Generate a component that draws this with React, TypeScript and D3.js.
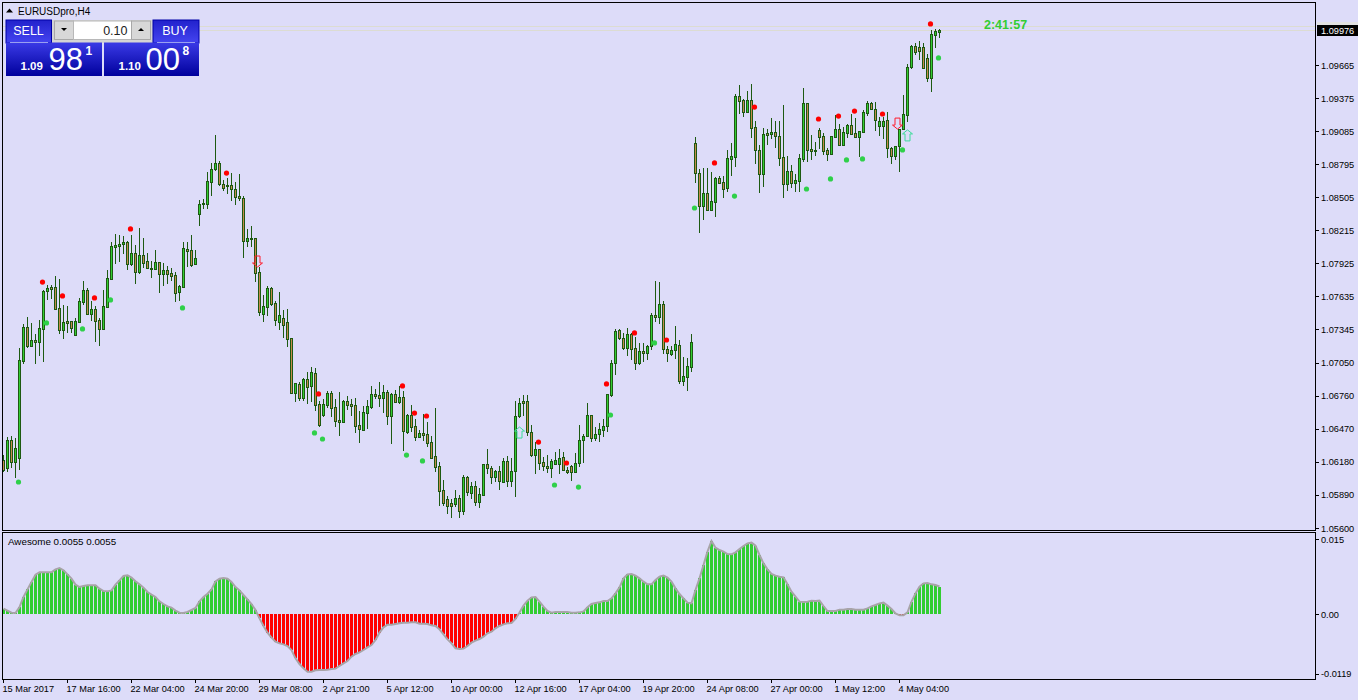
/**
 * EURUSD H4 terminal chart: candles, fractal dots, signal arrows and an Awesome oscillator pane.
 */
import React from 'react';
import * as d3 from 'd3';

const opens = [
  1.06198,1.06128,1.06373,1.06180,1.06215,1.07067,1.07366,1.07199,1.07252,1.07234,
  1.07349,1.07683,1.07718,1.07718,1.07534,1.07340,1.07419,1.07419,1.07296,1.07410,
  1.07586,1.07692,1.07481,1.07525,1.07428,1.07349,1.07542,1.07788,1.08069,1.08078,
  1.08096,1.08113,1.07920,1.08017,1.07849,1.07999,1.07946,1.07885,1.07876,1.07937,
  1.07832,1.07867,1.07841,1.07823,1.07674,1.07718,1.08052,1.08043,1.07920,1.08360,
  1.08447,1.08447,1.08640,1.08755,1.08808,1.08623,1.08614,1.08614,1.08579,1.08517,
  1.08500,1.08122,1.08149,1.08149,1.07849,1.07481,1.07542,1.07709,1.07578,1.07410,
  1.07446,1.07410,1.07270,1.06787,1.06866,1.06743,1.06909,1.06848,1.06962,1.06690,
  1.06593,1.06681,1.06787,1.06663,1.06549,1.06531,1.06716,1.06690,1.06681,1.06505,
  1.06461,1.06610,1.06663,1.06778,1.06769,1.06743,1.06795,1.06584,1.06778,1.06707,
  1.06752,1.06443,1.06593,1.06496,1.06399,1.06435,1.06426,1.06355,1.06233,1.06145,
  1.05934,1.05855,1.05820,1.05811,1.05864,1.05749,1.06048,1.05908,1.05969,1.05828,
  1.05890,1.06162,1.06128,1.06048,1.06101,1.06004,1.06189,1.06013,1.06101,1.06584,
  1.06716,1.06716,1.06443,1.06241,1.06294,1.06180,1.06145,1.06128,1.06162,1.06162,
  1.06224,1.06110,1.06145,1.06092,1.06171,1.06373,1.06408,1.06593,1.06391,1.06426,
  1.06461,1.06496,1.06769,1.07050,1.07340,1.07270,1.07182,1.07305,1.07182,1.07050,
  1.07155,1.07138,1.07199,1.07472,1.07454,1.07569,1.07173,1.07129,1.07164,1.07208,
  1.06892,1.06927,1.07014,1.08984,1.08719,1.08429,1.08544,1.08395,1.08464,1.08676,
  1.08640,1.08588,1.08843,1.08860,1.09396,1.09361,1.09255,1.09361,1.09124,1.08922,
  1.08711,1.09072,1.09063,1.09080,1.09045,1.08860,1.08623,1.08737,1.08632,1.08649,
  1.08843,1.09335,1.08931,1.08922,1.09098,1.09045,1.08922,1.08887,1.09036,1.09106,
  1.08966,1.09072,1.09141,1.09072,1.09036,1.09080,1.09247,1.09335,1.09282,1.09133,
  1.09133,1.09185,1.08940,1.08869,1.08957,1.09106,1.09229,1.09651,1.09836,1.09827,
  1.09827,1.09731,1.09555,1.09932,1.09959,
];

const highs = [
  1.06241,1.06399,1.06408,1.06391,1.07182,1.07393,1.07454,1.07402,1.07305,1.07428,
  1.07692,1.07735,1.07735,1.07814,1.07788,1.07560,1.07551,1.07419,1.07446,1.07622,
  1.07770,1.07709,1.07595,1.07551,1.07446,1.07692,1.07867,1.08113,1.08184,1.08175,
  1.08166,1.08122,1.08175,1.08087,1.08237,1.08149,1.08017,1.07946,1.08043,1.07937,
  1.07929,1.07902,1.07885,1.07849,1.07735,1.08113,1.08113,1.08175,1.08043,1.08482,
  1.08491,1.08728,1.08808,1.09054,1.08825,1.08658,1.08676,1.08719,1.08640,1.08711,
  1.08517,1.08228,1.08254,1.08149,1.07894,1.07648,1.07726,1.07718,1.07595,1.07674,
  1.07516,1.07525,1.07270,1.06875,1.06883,1.06918,1.06970,1.07014,1.07005,1.06716,
  1.06734,1.06804,1.06804,1.06734,1.06795,1.06725,1.06760,1.06734,1.06743,1.06628,
  1.06672,1.06725,1.06848,1.06822,1.06883,1.06857,1.06813,1.06787,1.06813,1.06848,
  1.06804,1.06602,1.06681,1.06558,1.06461,1.06602,1.06531,1.06408,1.06655,1.06180,
  1.06022,1.05881,1.05855,1.05934,1.05890,1.06066,1.06057,1.06004,1.06013,1.05951,
  1.06162,1.06294,1.06145,1.06110,1.06145,1.06215,1.06233,1.06215,1.06716,1.06743,
  1.06769,1.06769,1.06505,1.06355,1.06294,1.06224,1.06241,1.06206,1.06268,1.06294,
  1.06268,1.06136,1.06154,1.06259,1.06505,1.06426,1.06699,1.06593,1.06487,1.06522,
  1.06558,1.06778,1.07076,1.07349,1.07349,1.07314,1.07358,1.07314,1.07279,1.07226,
  1.07226,1.07208,1.07490,1.07770,1.07761,1.07595,1.07199,1.07199,1.07375,1.07252,
  1.07102,1.07094,1.07305,1.09036,1.08755,1.08764,1.08764,1.08728,1.08685,1.08693,
  1.08693,1.08922,1.08984,1.09414,1.09493,1.09370,1.09440,1.09502,1.09176,1.08966,
  1.09115,1.09106,1.09202,1.09176,1.09176,1.09317,1.08869,1.08790,1.08711,1.08887,
  1.09467,1.09335,1.09054,1.08992,1.09115,1.09072,1.08940,1.09045,1.09229,1.09150,
  1.09124,1.09150,1.09238,1.09202,1.09089,1.09273,1.09352,1.09343,1.09343,1.09211,
  1.09211,1.09255,1.08948,1.08957,1.09106,1.09405,1.09678,1.09845,1.09863,1.09880,
  1.09863,1.09766,1.09976,1.09985,1.09985,
];

const lows = [
  1.06092,1.06092,1.06128,1.06040,1.06110,1.07041,1.07182,1.07190,1.07041,1.07111,
  1.07058,1.07604,1.07613,1.07516,1.07305,1.07261,1.07314,1.07314,1.07296,1.07410,
  1.07560,1.07481,1.07419,1.07234,1.07199,1.07340,1.07534,1.07788,1.07920,1.07937,
  1.08008,1.07867,1.07902,1.07744,1.07832,1.07885,1.07885,1.07797,1.07867,1.07666,
  1.07726,1.07744,1.07770,1.07586,1.07595,1.07718,1.07894,1.07894,1.07911,1.08254,
  1.08404,1.08404,1.08517,1.08737,1.08605,1.08561,1.08535,1.08473,1.08438,1.08473,
  1.07973,1.08069,1.08069,1.07761,1.07463,1.07410,1.07463,1.07551,1.07375,1.07340,
  1.07270,1.07190,1.06787,1.06707,1.06716,1.06716,1.06690,1.06707,1.06628,1.06487,
  1.06575,1.06655,1.06575,1.06487,1.06408,1.06522,1.06637,1.06584,1.06435,1.06347,
  1.06452,1.06470,1.06646,1.06734,1.06663,1.06610,1.06505,1.06338,1.06699,1.06690,
  1.06276,1.06426,1.06443,1.06364,1.06391,1.06364,1.06312,1.06215,1.06092,1.05793,
  1.05793,1.05723,1.05688,1.05785,1.05688,1.05714,1.05881,1.05855,1.05793,1.05776,
  1.05890,1.06074,1.05987,1.06004,1.05934,1.05995,1.05960,1.05960,1.05872,1.06566,
  1.06584,1.06408,1.06224,1.06074,1.06110,1.06101,1.06083,1.06040,1.06162,1.06074,
  1.06101,1.06074,1.06013,1.06083,1.06136,1.06171,1.06399,1.06355,1.06364,1.06355,
  1.06399,1.06443,1.06752,1.06944,1.07252,1.07164,1.07111,1.07076,1.06988,1.07032,
  1.07058,1.07076,1.07164,1.07410,1.07393,1.07129,1.07058,1.07111,1.07085,1.06866,
  1.06848,1.06804,1.06970,1.08632,1.08193,1.08307,1.08395,1.08386,1.08333,1.08623,
  1.08500,1.08552,1.08693,1.08772,1.09238,1.09211,1.09255,1.09027,1.08799,1.08544,
  1.08597,1.08966,1.09018,1.08940,1.08781,1.08500,1.08561,1.08588,1.08552,1.08552,
  1.08816,1.08816,1.08834,1.08869,1.08931,1.08878,1.08825,1.08887,1.09036,1.08957,
  1.08957,1.09027,1.09054,1.09027,1.08860,1.09080,1.09220,1.09273,1.09089,1.09045,
  1.09018,1.08852,1.08799,1.08834,1.08728,1.09098,1.09167,1.09634,1.09757,1.09713,
  1.09643,1.09519,1.09431,1.09818,1.09906,
];

const closes = [
  1.06110,1.06373,1.06180,1.06303,1.07076,1.07366,1.07199,1.07252,1.07234,1.07358,
  1.07683,1.07709,1.07701,1.07525,1.07340,1.07410,1.07402,1.07358,1.07419,1.07595,
  1.07692,1.07481,1.07525,1.07419,1.07349,1.07551,1.07797,1.08078,1.08087,1.08096,
  1.08113,1.07920,1.08017,1.07849,1.07999,1.07929,1.07885,1.07876,1.07937,1.07832,
  1.07867,1.07832,1.07814,1.07666,1.07726,1.08061,1.08034,1.07911,1.07973,1.08447,
  1.08456,1.08649,1.08755,1.08808,1.08623,1.08588,1.08605,1.08579,1.08508,1.08500,
  1.08122,1.08149,1.08140,1.07841,1.07498,1.07551,1.07709,1.07569,1.07428,1.07472,
  1.07384,1.07261,1.06787,1.06875,1.06743,1.06909,1.06839,1.06970,1.06681,1.06505,
  1.06690,1.06787,1.06655,1.06540,1.06531,1.06716,1.06681,1.06672,1.06496,1.06470,
  1.06619,1.06672,1.06778,1.06760,1.06743,1.06795,1.06584,1.06778,1.06707,1.06752,
  1.06452,1.06593,1.06487,1.06399,1.06435,1.06417,1.06347,1.06215,1.06136,1.05925,
  1.05820,1.05793,1.05793,1.05864,1.05749,1.06048,1.05916,1.05969,1.05828,1.05899,
  1.06162,1.06128,1.06048,1.06101,1.06013,1.06189,1.06013,1.06101,1.06584,1.06699,
  1.06699,1.06443,1.06241,1.06294,1.06171,1.06145,1.06128,1.06189,1.06198,1.06215,
  1.06110,1.06092,1.06092,1.06171,1.06373,1.06408,1.06593,1.06391,1.06426,1.06470,
  1.06496,1.06778,1.07050,1.07331,1.07270,1.07182,1.07305,1.07173,1.07050,1.07155,
  1.07138,1.07199,1.07472,1.07454,1.07569,1.07173,1.07138,1.07164,1.07217,1.06892,
  1.06935,1.07023,1.07234,1.08719,1.08429,1.08544,1.08395,1.08473,1.08676,1.08632,
  1.08579,1.08852,1.08869,1.09396,1.09352,1.09255,1.09361,1.09115,1.08922,1.08711,
  1.09063,1.09054,1.09080,1.09045,1.08852,1.08623,1.08737,1.08632,1.08658,1.08852,
  1.09335,1.08922,1.08913,1.08913,1.09036,1.08913,1.08887,1.09045,1.09106,1.08966,
  1.09080,1.09141,1.09063,1.09036,1.09089,1.09255,1.09335,1.09282,1.09185,1.09176,
  1.09176,1.08940,1.08869,1.08957,1.09106,1.09238,1.09651,1.09836,1.09783,1.09792,
  1.09643,1.09555,1.09941,1.09967,1.09976,
];

const aoValues = [
  .00107,.00067,.00027,.0002,.0014,.0034,.00493,.0064,.00787,.00833,
  .00833,.00833,.00833,.00893,.0092,.00873,.00793,.00707,.00587,.0054,
  .0056,.00573,.00573,.00573,.00507,.0046,.00453,.00473,.00587,.00673,
  .0076,.00773,.00727,.00653,.00593,.00527,.0044,.00387,.0034,.00253,
  .002,.00153,.00127,.00067,.00027,.0002,.0004,.0008,.0012,.00253,
  .0034,.00407,.00493,.00653,.00707,.0072,.00707,.0064,.0054,.00473,
  .0038,.00293,.002,.0008,-.00087,-.0024,-.00373,-.00473,-.00553,-.00587,
  -.00607,-.0064,-.0072,-.00887,-.01,-.01087,-.01153,-.01153,-.01127,-.0112,
  -.0112,-.01113,-.011,-.01093,-.0104,-.00987,-.0094,-.00853,-.008,-.00767,
  -.0072,-.00667,-.0062,-.0052,-.00373,-.00267,-.00213,-.00213,-.002,-.00187,
  -.00173,-.00173,-.00167,-.00167,-.00193,-.00193,-.002,-.00227,-.0024,-.00307,
  -.00407,-.00507,-.00587,-.00687,-.007,-.00693,-.0064,-.00573,-.00533,-.005,
  -.00453,-.00387,-.00353,-.00287,-.0024,-.00207,-.00187,-.0018,-.001,.0003,
  .00167,.00267,.00333,.0034,.00247,.00147,.0006,.00027,.0004,.0004,
  .0004,.0004,.00027,.00027,.00033,.00053,.00133,.002,.0022,.00233,
  .0026,.0026,.00313,.00413,.00533,.00713,.00793,.008,.00767,.00713,
  .00647,.00593,.00593,.0068,.00747,.00767,.00727,.00647,.00513,.004,
  .00313,.00227,.00213,.0048,.00713,.0098,.01247,.0146,.01327,.0128,
  .01247,.012,.01193,.01233,.013,.0136,.01413,.01427,.01367,.0118,
  .01013,.00893,.008,.00767,.00747,.00733,.00593,.00447,.00347,.00247,
  .0024,.00247,.00267,.0026,.00267,.0016,.0006,.0006,.0006,.00087,
  .00087,.001,.001,.00087,.00087,.00087,.00113,.00153,.0018,.00213,
  .00227,.00167,.001,.00013,-.00027,-.00027,.00033,.00247,.00413,.00547,
  .00613,.0062,.00593,.0058,.0055,
];

// fractal markers: bar index and price
const upFractalBars = [10,15,23,32,56,79,100,103,106,134,141,151,158,166,178,188,204,209,213,220,232];
const upFractalPrices = [
  1.07761,1.07639,1.07622,1.08228,1.08719,1.06778,1.06848,1.06610,1.06584,1.06355,1.06171,
  1.06866,1.07314,1.07252,1.08808,1.09299,1.09194,1.09220,1.09264,1.09238,1.10029,
];
const downFractalBars = [4,11,20,27,45,78,80,101,105,138,144,152,163,173,183,201,207,211,215,225,234];
const downFractalPrices = [
  1.06004,1.07402,1.07349,1.07604,1.07534,1.06435,1.06382,1.06241,1.06189,1.05978,1.05960,
  1.06593,1.07226,1.08412,1.08517,1.08579,1.08667,1.08834,1.08843,1.08922,1.09731,
];

// signal arrows: bar index and the price at the top of the glyph
const sellArrowBars = [64, 224];
const sellArrowPrices = [1.0799, 1.09202];
const buyArrowBars = [129, 226];
const buyArrowPrices = [1.06487, 1.09098];

const priceTicks = [
  '1.09665','1.09375','1.09085','1.08795','1.08505','1.08215','1.07925',
  '1.07635','1.07345','1.07050','1.06760','1.06470','1.06180','1.05890','1.05600',
];
const aoTicks = ['0.015', '0.00', '-0.0119'];
const timeBars = [0,16,32,48,64,80,96,112,128,144,160,176,192,208,224];
const timeLabels = [
  '15 Mar 2017','17 Mar 16:00','22 Mar 04:00','24 Mar 20:00','29 Mar 08:00',
  '2 Apr 21:00','5 Apr 12:00','10 Apr 00:00','12 Apr 16:00','17 Apr 04:00',
  '19 Apr 20:00','24 Apr 08:00','27 Apr 00:00','1 May 12:00','4 May 04:00',
];

const bidPrice = 1.09976;
const askPrice = 1.10008;

const WIDTH = 1358;
const HEIGHT = 700;
const BG = '#dddcf9';
const WICK = '#1d5a12';
const UP_FILL = '#32cd32';
const DOWN_FILL = '#c58a4c';
const LABEL_FONT = '"Liberation Sans", Arial, sans-serif';

const x = d3.scaleLinear().domain([0, 234]).range([3, 939]);
const py = d3.scaleLinear().domain([1.056, 1.09976]).range([528, 30]);
const ay = d3.scaleLinear().domain([-0.0119, 0.015]).range([673.5, 539]);

const crisp = (v: number) => Math.round(v) + 0.5;

const aoLine = d3
  .line<number>()
  .x((_, i) => x(i) + 0.5)
  .y((d) => ay(d));

const sellArrow = (cx: number, top: number) =>
  `M${cx - 2.5},${top} H${cx + 2.5} V${top + 7} H${cx + 5} L${cx},${top + 11} L${cx - 5},${top + 7} H${cx - 2.5} Z`;
const buyArrow = (cx: number, top: number) =>
  `M${cx},${top} L${cx + 5},${top + 4} H${cx + 2.5} V${top + 11} H${cx - 2.5} V${top + 4} H${cx - 5} Z`;

const Candles = () => (
  <g shapeRendering="crispEdges">
    {opens.map((o, i) => {
      const c = closes[i];
      const top = crisp(py(Math.max(o, c)));
      const bottom = Math.max(crisp(py(Math.min(o, c))), top + 1);
      return (
        <g key={i}>
          <line
            x1={x(i) + 0.5}
            x2={x(i) + 0.5}
            y1={Math.round(py(highs[i]))}
            y2={Math.round(py(lows[i]))}
            stroke={WICK}
          />
          <rect
            x={x(i) - 0.5}
            y={top}
            width={2}
            height={bottom - top}
            fill={c >= o ? UP_FILL : DOWN_FILL}
            stroke={WICK}
          />
        </g>
      );
    })}
  </g>
);

const TradePanel = () => (
  <g fontFamily={LABEL_FONT}>
    <rect x={6} y={20} width={193} height={23} fill="#d4d4d4" />
    <rect x={6} y={20} width={45.5} height={23} fill="url(#btnGrad)" stroke="#0000a8" />
    <rect x={153} y={20} width={46} height={23} fill="url(#btnGrad)" stroke="#0000a8" />
    <text x={28.5} y={35} fill="#fff" fontSize={12.5} textAnchor="middle">SELL</text>
    <text x={175} y={35} fill="#fff" fontSize={12.5} textAnchor="middle">BUY</text>
    <rect x={54.5} y={21} width={19} height={18.5} fill="#d8d8d8" stroke="#a8a8a8" />
    <rect x={73.5} y={21} width={58} height={18.5} fill="#fff" stroke="#b8b8b8" />
    <rect x={131.5} y={21} width={19} height={18.5} fill="#d8d8d8" stroke="#a8a8a8" />
    <path d="M61,28 h6 l-3,3 Z" fill="#000" />
    <path d="M138,31 h6 l-3,-3 Z" fill="#000" />
    <text x={127.5} y={34.5} fontSize={12.5} textAnchor="end" fill="#222">0.10</text>

    <rect x={6} y={42.5} width={96} height={33.5} fill="url(#quoteGrad)" />
    <rect x={104} y={42.5} width={95} height={33.5} fill="url(#quoteGrad)" />
    <line x1={10} x2={48} y1={42.5} y2={42.5} stroke="#9aa0f0" />
    <line x1={157} x2={195} y1={42.5} y2={42.5} stroke="#9aa0f0" />

    <text x={20.5} y={70} fill="#fff" fontSize={11.5} fontWeight="bold">1.09</text>
    <text x={48.5} y={70} fill="#fff" fontSize={31}>98</text>
    <text x={85.5} y={55} fill="#fff" fontSize={12} fontWeight="bold">1</text>
    <text x={118.5} y={70} fill="#fff" fontSize={11.5} fontWeight="bold">1.10</text>
    <text x={145.5} y={70} fill="#fff" fontSize={31}>00</text>
    <text x={182.5} y={55} fill="#fff" fontSize={12} fontWeight="bold">8</text>
  </g>
);

export default function App() {
  return (
    <svg
      width={WIDTH}
      height={HEIGHT}
      viewBox={`0 0 ${WIDTH} ${HEIGHT}`}
      style={{position: 'absolute', left: 0, top: 0, display: 'block', background: BG}}
    >
      <defs>
        <linearGradient id="btnGrad" x1="0" y1="0" x2="0" y2="1">
          <stop offset="0" stopColor="#2222cc" />
          <stop offset="1" stopColor="#4444f0" />
        </linearGradient>
        <linearGradient id="quoteGrad" x1="0" y1="0" x2="0" y2="1">
          <stop offset="0" stopColor="#3a3ae6" />
          <stop offset="1" stopColor="#00009c" />
        </linearGradient>
      </defs>

      {/* bid and ask lines */}
      <g shapeRendering="crispEdges" stroke="#dcdcd2">
        <line x1={3} x2={1315} y1={crisp(py(askPrice))} y2={crisp(py(askPrice))} />
        <line x1={3} x2={1315} y1={crisp(py(bidPrice))} y2={crisp(py(bidPrice))} />
      </g>

      <Candles />

      {upFractalBars.map((b, i) => (
        <circle key={b} cx={x(b) - 0.5} cy={py(upFractalPrices[i])} r={2.6} fill="#ff0000" />
      ))}
      {downFractalBars.map((b, i) => (
        <circle key={b} cx={x(b) - 0.5} cy={py(downFractalPrices[i])} r={2.6} fill="#2fd04a" />
      ))}

      {sellArrowBars.map((b, i) => (
        <path
          key={b}
          d={sellArrow(x(b) - 1.5, py(sellArrowPrices[i]))}
          fill="none"
          stroke="#ff1c2c"
        />
      ))}
      {buyArrowBars.map((b, i) => (
        <path
          key={b}
          d={buyArrow(x(b) + 0.5, py(buyArrowPrices[i]))}
          fill="none"
          stroke="#3cdc9a"
        />
      ))}

      {/* oscillator pane */}
      <g shapeRendering="crispEdges">
        {aoValues.map((v, i) => {
          const y0 = ay(0);
          const y1 = ay(v);
          return (
            <rect
              key={i}
              x={x(i) - 1}
              width={3}
              y={Math.min(y0, y1)}
              height={Math.abs(y1 - y0)}
              fill={v >= 0 ? UP_FILL : '#ff0000'}
            />
          );
        })}
      </g>
      <path d={aoLine(aoValues) ?? ''} fill="none" stroke="#a8a4a8" strokeWidth={2} />

      {/* frames */}
      <g shapeRendering="crispEdges" fill="none" stroke="#000">
        <rect x={2.5} y={2.5} width={1313} height={528} />
        <rect x={2.5} y={532.5} width={1313} height={147} />
      </g>

      <TradePanel />

      <g fontFamily={LABEL_FONT} fontSize={9.8} fill="#000">
        <path d="M6,12.5 h7 l-3.5,-4 Z" fill="#000" />
        <text x={18} y={14.5} fontSize={10}>EURUSDpro,H4</text>
        <text x={8} y={544.5} fontSize={9.8}>Awesome 0.0055 0.0055</text>
      </g>

      <text
        x={984}
        y={29}
        fontFamily={LABEL_FONT}
        fontSize={12.5}
        fontWeight="bold"
        fill="#32cd32"
      >
        2:41:57
      </text>

      {/* price axis */}
      <g fontFamily={LABEL_FONT} fontSize={9.2} fill="#000">
        {priceTicks.map((t) => (
          <g key={t}>
            <line
              x1={1316}
              x2={1319}
              y1={crisp(py(+t))}
              y2={crisp(py(+t))}
              stroke="#000"
              shapeRendering="crispEdges"
            />
            <text x={1321} y={py(+t) + 3.5}>{t}</text>
          </g>
        ))}
        <rect x={1317} y={22} width={41} height={3} fill="#e2e2e2" />
        <rect x={1317} y={25} width={41} height={11} fill="#000" />
        <text x={1321} y={33.5} fill="#fff">{bidPrice.toFixed(5)}</text>
      </g>

      {/* oscillator axis */}
      <g fontFamily={LABEL_FONT} fontSize={9.2} fill="#000">
        {aoTicks.map((t) => (
          <g key={t}>
            <line
              x1={1316}
              x2={1319}
              y1={crisp(ay(+t))}
              y2={crisp(ay(+t))}
              stroke="#000"
              shapeRendering="crispEdges"
            />
            <text x={1321} y={ay(+t) + 3.5}>{t}</text>
          </g>
        ))}
      </g>

      {/* time axis */}
      <g fontFamily={LABEL_FONT} fontSize={9.2} fill="#000">
        {timeBars.map((b, i) => (
          <g key={b}>
            <line
              x1={x(b) + 0.5}
              x2={x(b) + 0.5}
              y1={680}
              y2={683}
              stroke="#000"
              shapeRendering="crispEdges"
            />
            <text x={x(b) - 0.5} y={692}>{timeLabels[i]}</text>
          </g>
        ))}
      </g>
    </svg>
  );
}
